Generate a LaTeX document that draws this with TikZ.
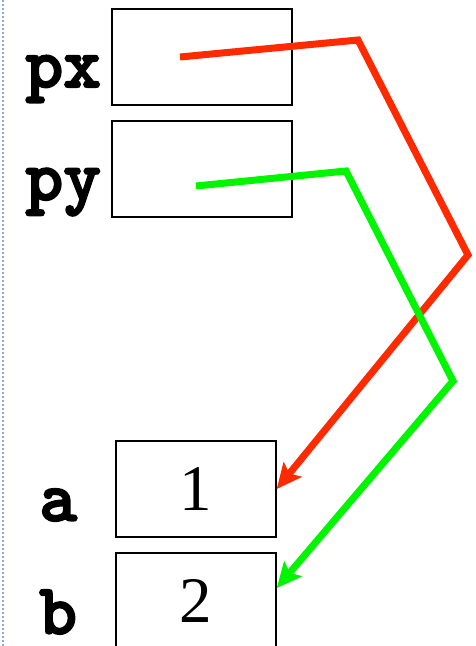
\documentclass[tikz,border=0pt]{standalone}
\usepackage{fontspec}
\newfontfamily\valfont{Liberation Serif}
\newfontfamily\namefont{lmmonolt10-bold.otf}[FakeBold=2.5]
\usetikzlibrary{arrows.meta, positioning, calc}

\definecolor{ptrred}{RGB}{255,42,0}
\definecolor{ptrgreen}{RGB}{0,245,0}
\definecolor{marginblue}{RGB}{140,170,215}

\tikzset{
  cell/.style={rectangle, draw=black, line width=1.5pt, minimum width=180pt, minimum height=96pt, inner sep=0pt, font=\valfont\fontsize{65}{65}\selectfont},
  varname/.style={inner sep=0pt, font=\namefont\fontsize{72}{72}\selectfont},
  ptr/.style={line width=7pt, line join=miter, ->, >={Stealth[length=25pt, width=23pt, inset=5pt]}}
}

\begin{document}
\begin{tikzpicture}[x=1pt, y=-1pt]
  \useasboundingbox (0,0) rectangle (475,646);
  \draw[marginblue, line width=2pt, dotted] (3,0) -- (3,646);
\node[cell, minimum width=180pt] (pxbox) at (202,57) {};
\node[cell, below=14.5pt of pxbox] (pybox) {};
\node[cell, minimum width=160pt] (abox) at (196,489) {1};
\node[cell, minimum width=160pt, below=14.5pt of abox] (bbox) {2};
  \node[varname, left=10pt of pxbox, yshift=-22pt] (pxname) {px};
  \node[varname, left=10pt of pybox, yshift=-23pt] (pyname) {py};
  \node[varname, left=38pt of abox, yshift=-16pt] (aname) {a};
  \node[varname, left=38pt of bbox, yshift=-11pt] (bname) {b};
  \coordinate (pxbend) at (358,40);
  \coordinate (pxturn) at (468,255);
  \coordinate (pybend) at (346,171);
  \coordinate (pyturn) at (453,381);
\draw[ptr, ptrred] ([xshift=-22pt]pxbox.center) -- (pxbend) -- (pxturn) -- (abox.east);
\draw[ptr, ptrgreen] ([xshift=-6pt, yshift=-17pt]pybox.center) -- (pybend) -- (pyturn) -- ([yshift=13pt]bbox.east);
\end{tikzpicture}
\end{document}
